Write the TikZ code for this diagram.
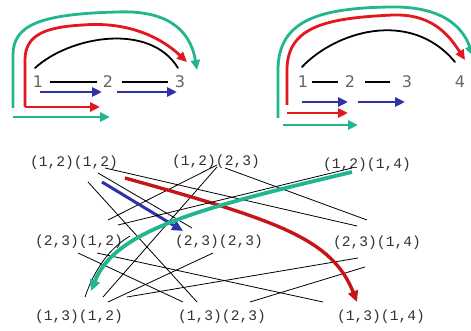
\documentclass[tikz,border=0pt]{standalone}
\usepackage{fontspec}
\newfontfamily\monof{Liberation Mono}
\newfontfamily\digf{DejaVu Sans}
\usetikzlibrary{arrows.meta,calc}
\definecolor{tealc}{RGB}{34,182,142}
\definecolor{redc}{RGB}{226,24,30}
\definecolor{redb}{RGB}{196,22,24}
\definecolor{bluec}{RGB}{48,48,168}
\begin{document}
\begin{tikzpicture}[x=1pt,y=-1pt,
  lab/.style={font=\monof\fontsize{14.6}{16}\selectfont, text=black!80, inner sep=0pt},
  dig/.style={font=\digf\fontsize{16}{18}\selectfont, text=black!60, inner sep=0pt},
  edgeline/.style={draw=black, line width=1.6pt},
  arcline/.style={draw=black, line width=1.8pt, line cap=round},
  thinline/.style={draw=black, line width=0.8pt},
  tarrow/.style={line width=2.8pt, -{Triangle[length=10pt,width=9pt]}},
  barrow/.style={line width=3.4pt, -{Triangle[length=11pt,width=10pt]}},
]
\useasboundingbox (0,0) rectangle (471,331);
\fill[white] (0,0) rectangle (471,331);

% ---------- top left ----------
\node[dig] (t1) at (38,82) {1};
\node[dig] (t2) at (108,82) {2};
\node[dig] (t3) at (180,82) {3};
\draw[edgeline, shorten <=7pt, shorten >=6pt] (t1.east) -- (t2.west);
\draw[edgeline, shorten <=9pt, shorten >=7pt] (t2.east) -- (t3.west);
\coordinate (ta0) at (35,68);
\coordinate (ta1) at (178,68);
\draw[arcline] (ta0) .. controls (70,36) and (150,22) .. (ta1);
% blue
\coordinate (tb0) at (40,92); \coordinate (tb1) at (102,92);
\coordinate (tb2) at (117,92); \coordinate (tb3) at (177,92);
\draw[bluec, tarrow] (tb0) -- (tb1);
\draw[bluec, tarrow] (tb2) -- (tb3);
% red
\coordinate (tr0) at (25,107); \coordinate (tr1) at (100,107);
\coordinate (tr2) at (187,62);
\draw[redc, tarrow] (tr0) -- (tr1);
\draw[redc, tarrow] (tr0) -- (25,60) .. controls (25,35) and (45,27) .. (83,25)
   .. controls (120,22) and (155,32) .. (tr2);
% teal
\coordinate (tt0) at (13,108); \coordinate (tt1) at (197,70);
\coordinate (tt2) at (13,117); \coordinate (tt3) at (110,117);
\draw[tealc, tarrow] (tt0) -- (13,55) .. controls (13,25) and (40,14) .. (117,12)
   .. controls (165,10) and (190,28) .. (tt1);
\draw[tealc, tarrow] (tt2) -- (tt3);

% ---------- top right ----------
\node[dig] (u1) at (303,82) {1};
\node[dig] (u2) at (350,82) {2};
\node[dig] (u3) at (407,82) {3};
\node[dig] (u4) at (460,82) {4};
\draw[edgeline, shorten <=4pt, shorten >=7pt] (u1.east) -- (u2.west);
\draw[edgeline, shorten <=10pt, shorten >=12pt] (u2.east) -- (u3.west);
\coordinate (ua0) at (302,67);
\coordinate (ua1) at (455,62);
\draw[arcline] (ua0) .. controls (335,32) and (410,8) .. (ua1);
% blue
\coordinate (ub0) at (302,102); \coordinate (ub1) at (348,102);
\coordinate (ub2) at (358,102); \coordinate (ub3) at (405,102);
\draw[bluec, tarrow] (ub0) -- (ub1);
\draw[bluec, tarrow] (ub2) -- (ub3);
% red
\coordinate (ur0) at (287,113); \coordinate (ur1) at (348,113);
\coordinate (ur2) at (287,105); \coordinate (ur3) at (465,60);
\draw[redc, tarrow] (ur0) -- (ur1);
\draw[redc, tarrow] (ur2) -- (287,70) .. controls (287,25) and (330,18) .. (393,15)
   .. controls (430,14) and (447,32) .. (ur3);
% teal
\coordinate (ut0) at (283,125); \coordinate (ut1) at (358,125);
\coordinate (ut2) at (278,118); \coordinate (ut3) at (473,56);
\draw[tealc, tarrow] (ut0) -- (ut1);
\draw[tealc, tarrow] (ut2) -- (278,70) .. controls (278,20) and (320,8) .. (390,7)
   .. controls (440,6) and (462,25) .. (ut3);

% ---------- bottom labels ----------
\node[lab] (a11) at (74,163) {(1,2)(1,2)};
\node[lab] (a12) at (216,162) {(1,2)(2,3)};
\node[lab] (a13) at (367,165) {(1,2)(1,4)};
\node[lab] (a21) at (79,242) {(2,3)(1,2)};
\node[lab] (a22) at (219,242) {(2,3)(2,3)};
\node[lab] (a23) at (377,243) {(2,3)(1,4)};
\node[lab] (a31) at (79,317) {(1,3)(1,2)};
\node[lab] (a32) at (222,317) {(1,3)(2,3)};
\node[lab] (a33) at (381,317) {(1,3)(1,4)};

% ---------- bottom black lines ----------
\coordinate (l1a) at (98,173);  \coordinate (l1b) at (192,228);
\coordinate (l2a) at (105,168); \coordinate (l2b) at (357,226);
\coordinate (l3a) at (88,182);  \coordinate (l3b) at (197,302);
\coordinate (l4a) at (217,165); \coordinate (l4b) at (108,220);
\coordinate (l5a) at (217,167); \coordinate (l5b) at (103,297);
\coordinate (lAa) at (225,168); \coordinate (lAb) at (367,220);
\coordinate (l7a) at (78,253);  \coordinate (l7b) at (183,302);
\coordinate (l8a) at (97,253);  \coordinate (l8b) at (323,302);
\coordinate (l9a) at (213,253); \coordinate (l9b) at (108,302);
\coordinate (l10a) at (127,297); \coordinate (l10b) at (358,258);
\coordinate (l11a) at (250,302); \coordinate (l11b) at (365,267);
\coordinate (l12a) at (85,297);  \coordinate (l12b) at (130,236);
\foreach \p in {1,2,3,4,5,A,7,8,9,10,11}
  \draw[thinline] (l\p a) -- (l\p b);
\draw[thinline] (l12a) .. controls (95,268) and (110,248) .. (l12b);

% ---------- bottom coloured paths ----------
\coordinate (bb0) at (102,182); \coordinate (bb1) at (183,231);
\draw[bluec, barrow, line width=3pt] (bb0) -- (bb1);
\coordinate (br0) at (125,178); \coordinate (br1) at (357,302);
\draw[redb, barrow] (br0) .. controls (275,220) and (332,238) .. (br1);
\coordinate (bt0) at (352,172); \coordinate (bt1) at (91,291);
\draw[tealc, barrow, line width=3.8pt] (bt0) .. controls (200,208) and (115,230) .. (bt1);
\coordinate (l6a) at (118,225); \coordinate (l6b) at (352,168);
\draw[thinline] (l6a) -- (l6b);
\end{tikzpicture}
\end{document}
